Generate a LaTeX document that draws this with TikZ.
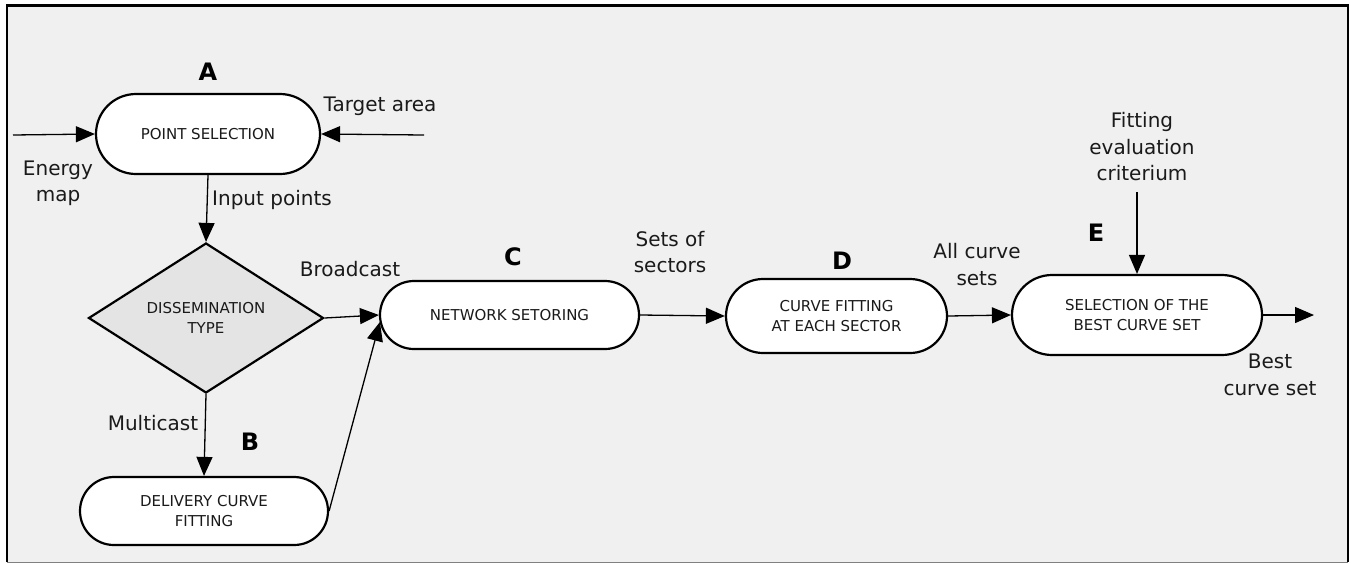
\documentclass[tikz,border=0pt]{standalone}
\usepackage{fontspec}
\setmainfont{DejaVu Sans}
\usetikzlibrary{shapes.misc,shapes.geometric,arrows.meta}
\definecolor{bgc}{HTML}{F0F0F0}
\definecolor{dfill}{HTML}{E4E4E4}
\definecolor{txt}{HTML}{1A1A1A}
\tikzset{
  procbox/.style={rounded rectangle, draw=black, line width=2.2pt, fill=white,
    text=txt, align=center, inner sep=0pt,
    font=\fontsize{15}{19.5}\selectfont},
  decbox/.style={diamond, draw=black, line width=2.2pt, fill=dfill, text=txt,
    align=center, inner sep=0pt, aspect=1.56,
    font=\fontsize{15}{19.5}\selectfont},
  lbl/.style={text=txt, align=center, inner sep=0pt,
    font=\fontsize{20}{26.5}\selectfont},
  letter/.style={text=black, inner sep=0pt, font=\fontsize{24}{28}\selectfont\bfseries},
  conn/.style={line width=1.3pt, -{Triangle[length=19pt,width=16pt]}},
}
\begin{document}
\begin{tikzpicture}[x=1pt,y=-1pt]
\useasboundingbox (0,0) rectangle (1351,563);
\fill[white] (0,0) rectangle (1351,563);
\fill[bgc] (7,5) rectangle (1348,562);
\draw[line width=2.5pt, black] (7,562) -- (7,5.3) -- (1348,5.3) -- (1348,562);
\draw[line width=1pt, gray] (7,562) -- (1348,562);

% process nodes
\node[procbox, minimum width=224pt, minimum height=80pt] (ps) at (208,134) {POINT SELECTION};
\node[decbox, minimum width=235pt, minimum height=150pt] (dt) at (206,318) {DISSEMINATION\\TYPE};
\node[procbox, minimum width=259pt, minimum height=68pt] (ns) at (509.5,315) {NETWORK SETORING};
\node[procbox, minimum width=248pt, minimum height=68pt] (dc) at (204,511) {DELIVERY CURVE\\FITTING};
\node[procbox, minimum width=221pt, minimum height=74pt] (cf) at (836.5,316) {CURVE FITTING\\AT EACH SECTOR};
\node[procbox, minimum width=250pt, minimum height=80pt] (sb) at (1137,315) {SELECTION OF THE\\BEST CURVE SET};

% letters
\node[letter] (la) at (208,72) {A};
\node[letter] (lb) at (250,442) {B};
\node[letter] (lc) at (513,257) {C};
\node[letter] (ld) at (842,261) {D};
\node[letter] (le) at (1096,233) {E};

% labels
\node[lbl] (tem) at (58,183.5) {Energy\\map};
\node[lbl] (tta) at (380,106) {Target area};
\node[lbl] (tip) at (272,200) {Input points};
\node[lbl] (tbc) at (350,269) {Broadcast};
\node[lbl] (tmc) at (153,423) {Multicast};
\node[lbl] (tss) at (670,252) {Sets of\\sectors};
\node[lbl] (tac) at (977,264.5) {All curve\\sets};
\node[lbl] (tfe) at (1142,147) {Fitting\\evaluation\\criterium};
\node[lbl] (tbs) at (1270,375) {Best\\curve set};

% free ends
\coordinate (em) at (13,135);
\coordinate (ta) at (424,135);
\coordinate (fe) at (1137,192);
\coordinate (bo) at (1314,315);

% connectors
\draw[conn] (em) -- (ps.west);
\draw[conn] (ta) -- (ps.east);
\draw[conn] (ps.south) -- (dt.north);
\draw[conn] (dt.east) -- (ns.west);
\draw[conn] (dt.south) -- (dc.north);
\draw[conn] (dc.east) -- ([yshift=-7pt,xshift=1pt]ns.west);
\draw[conn] (ns.east) -- (cf.west);
\draw[conn] (cf.east) -- (sb.west);
\draw[conn] (fe) -- (sb.north);
\draw[conn] (sb.east) -- (bo);
\end{tikzpicture}
\end{document}
